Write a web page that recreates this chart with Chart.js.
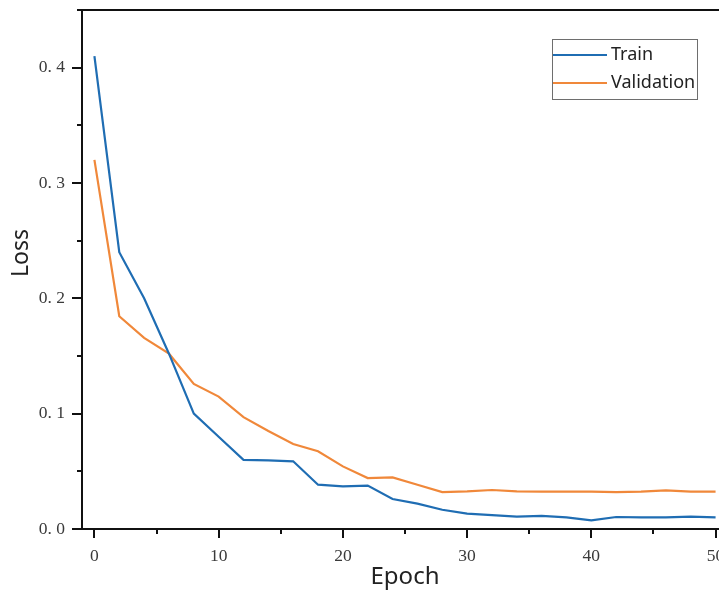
<!DOCTYPE html>
<html>
<head>
<meta charset="utf-8">
<script src="https://cdn.jsdelivr.net/npm/chart.js@4/dist/chart.umd.min.js"></script>
<style>
  html, body { margin: 0; padding: 0; background: #fff; overflow: hidden; }
  #wrap { width: 760px; height: 593px; }
</style>
</head>
<body>
<div id="wrap"><canvas id="c" width="760" height="593"></canvas></div>
<script>
// ---- data ----
const epochs = [0, 2, 4, 6, 8, 10, 12, 14, 16, 18, 20, 22, 24, 26, 28, 30, 32, 34, 36, 38, 40, 42, 44, 46, 48, 50];
const trainLoss = [0.410, 0.240, 0.200, 0.152, 0.100, 0.080, 0.060, 0.0595, 0.0587, 0.0384, 0.0370, 0.0376, 0.0260,
                   0.0220, 0.0167, 0.0133, 0.0120, 0.0107, 0.0113, 0.0100, 0.0075, 0.0104, 0.0100, 0.0100, 0.0107, 0.0100];
const valLoss = [0.320, 0.1845, 0.1657, 0.152, 0.1258, 0.1148, 0.097, 0.085, 0.0737, 0.0674, 0.0543, 0.0442, 0.0448,
                 0.0384, 0.0320, 0.0326, 0.0338, 0.0327, 0.0324, 0.0324, 0.0324, 0.0320, 0.0324, 0.0335, 0.0324, 0.0324];
const seriesNames = ['Train', 'Validation'];
const xMajorTicks = [0, 10, 20, 30, 40, 50];
const xMinorTicks = [5, 15, 25, 35, 45];
const yMajorTicks = [0, 0.1, 0.2, 0.3, 0.4];
const yMinorTicks = [0.05, 0.15, 0.25, 0.35, 0.45];
const xTitle = 'Epoch';
const yTitle = 'Loss';

const colors = ['#1f6db3', '#f0883a'];

const toPts = ys => epochs.map((e, i) => ({ x: e, y: ys[i] }));

// axes, ticks, frame and y title
const framePlugin = {
  id: 'frame',
  afterDraw(chart) {
    const ctx = chart.ctx;
    const xs = chart.scales.x, ys = chart.scales.y;
    const a = chart.chartArea;
    ctx.save();
    ctx.strokeStyle = '#111';
    ctx.lineWidth = 2;
    ctx.beginPath();
    ctx.moveTo(a.left, a.top); ctx.lineTo(a.right, a.top);
    ctx.lineTo(a.right, a.bottom);
    ctx.moveTo(a.left, a.top); ctx.lineTo(a.left, a.bottom); ctx.lineTo(a.right, a.bottom);
    ctx.stroke();
    ctx.beginPath();
    xMajorTicks.forEach(v => { const p = Math.round(xs.getPixelForValue(v)); ctx.moveTo(p, a.bottom); ctx.lineTo(p, a.bottom + 9); });
    xMinorTicks.forEach(v => { const p = Math.round(xs.getPixelForValue(v)); ctx.moveTo(p, a.bottom); ctx.lineTo(p, a.bottom + 5); });
    yMajorTicks.forEach(v => { const p = Math.round(ys.getPixelForValue(v)); ctx.moveTo(a.left, p); ctx.lineTo(a.left - 10, p); });
    yMinorTicks.forEach(v => { const p = Math.round(ys.getPixelForValue(v)); ctx.moveTo(a.left, p); ctx.lineTo(a.left - 5, p); });
    ctx.stroke();
    // y-axis title (placed slightly above centre, as in the reference)
    ctx.translate(21, 253);
    ctx.rotate(-Math.PI / 2);
    ctx.font = '23px "Noto Sans"';
    ctx.fillStyle = '#222';
    ctx.textAlign = 'center';
    ctx.textBaseline = 'middle';
    ctx.fillText(yTitle, 0, 0);
    ctx.restore();
  }
};

// legend box
const legendPlugin = {
  id: 'boxLegend',
  afterDraw(chart) {
    const ctx = chart.ctx;
    ctx.save();
    const bx = 552, by = 39, bw = 145, bh = 60;
    ctx.strokeStyle = '#6e6e6e';
    ctx.lineWidth = 1;
    ctx.strokeRect(bx + 0.5, by + 0.5, bw, bh);
    ctx.font = '18px "Noto Sans"';
    ctx.textBaseline = 'middle';
    ctx.fillStyle = '#222';
    chart.data.datasets.forEach((ds, i) => {
      const yy = by + 16 + i * 28;
      ctx.strokeStyle = ds.borderColor;
      ctx.lineWidth = 2;
      ctx.beginPath();
      ctx.moveTo(bx + 1, yy); ctx.lineTo(bx + 55, yy);
      ctx.stroke();
      ctx.fillText(ds.label, bx + 59, yy);
    });
    ctx.restore();
  }
};

new Chart(document.getElementById('c'), {
  type: 'line',
  data: {
    datasets: [
      { label: seriesNames[0], data: toPts(trainLoss), borderColor: colors[0], borderWidth: 2.2, pointRadius: 0, tension: 0, fill: false },
      { label: seriesNames[1], data: toPts(valLoss), borderColor: colors[1], borderWidth: 2.2, pointRadius: 0, tension: 0, fill: false }
    ]
  },
  options: {
    responsive: false,
    animation: false,
    layout: { padding: { left: 0, top: 10, right: 32, bottom: 0 } },
    plugins: { legend: { display: false }, tooltip: { enabled: false } },
    scales: {
      x: {
        type: 'linear', min: -1, max: 51,
        afterBuildTicks: s => { s.ticks = xMajorTicks.map(v => ({ value: v })); },
        afterFit: s => { s.height = 64; s.paddingLeft = 0; s.paddingRight = 0; },
        grid: { display: false, drawTicks: false },
        border: { display: false },
        ticks: { padding: 17, color: '#3a3a3a', font: { family: '"Liberation Serif"', size: 17.5 }, maxRotation: 0,
                 callback: v => String(v) },
        title: { display: true, text: xTitle, color: '#222', font: { family: '"Noto Sans"', size: 24 }, padding: { top: 0, bottom: 1 } }
      },
      y: {
        type: 'linear', min: 0, max: 0.45,
        afterBuildTicks: s => { s.ticks = yMajorTicks.map(v => ({ value: v })); },
        afterFit: s => { s.width = 82; s.paddingTop = 0; s.paddingBottom = 0; },
        grid: { display: false, drawTicks: false },
        border: { display: false },
        ticks: { padding: 17, color: '#3a3a3a', font: { family: '"Liberation Serif"', size: 17.5 },
                 callback: v => v.toFixed(1).replace('.', '. ') },
        title: { display: false }
      }
    }
  },
  plugins: [framePlugin, legendPlugin]
});
</script>
</body>
</html>
